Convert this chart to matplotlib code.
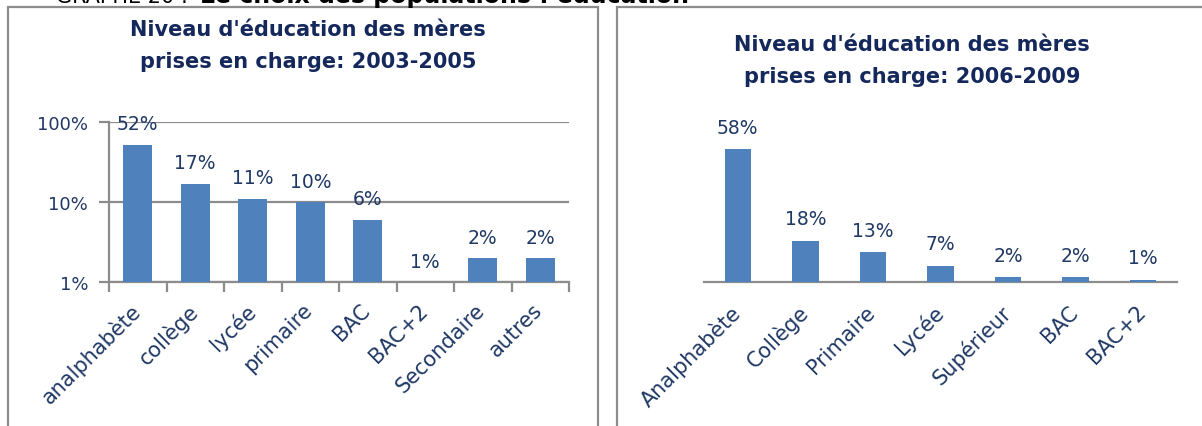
import matplotlib.pyplot as plt
from matplotlib.patches import Rectangle
from matplotlib.ticker import FixedLocator, NullLocator
from matplotlib.transforms import ScaledTranslation

# data
cats_0305 = ["analphabète", "collège", "lycée", "primaire", "BAC", "BAC+2", "Secondaire", "autres"]
vals_0305 = [0.52, 0.17, 0.11, 0.10, 0.06, 0.01, 0.02, 0.02]
labels_0305 = ["52%", "17%", "11%", "10%", "6%", "1%", "2%", "2%"]

cats_0609 = ["Analphabète", "Collège", "Primaire", "Lycée", "Supérieur", "BAC", "BAC+2"]
vals_0609 = [0.58, 0.18, 0.13, 0.07, 0.02, 0.02, 0.01]
labels_0609 = ["58%", "18%", "13%", "7%", "2%", "2%", "1%"]

title_0305 = "Niveau d'éducation des mères\nprises en charge: 2003-2005"
title_0609 = "Niveau d'éducation des mères\nprises en charge: 2006-2009"

W, H = 1202, 427
navy = "#1F3864"
title_col = "#14285C"
bar_col = "#4F81BD"
grey = "#8C8C8C"

plt.rcParams['font.family'] = ['DejaVu Sans']

fig = plt.figure(figsize=(W / 100, H / 100), dpi=100)


def px_axes(x0, y0, x1, y1):
    # pixel box (top-left origin) -> figure axes
    return fig.add_axes([x0 / W, 1 - y1 / H, (x1 - x0) / W, (y1 - y0) / H])


def fx(x):
    return x / W


def fy(y):
    return 1 - y / H


def nudge(labels, dx, dy):
    # shift rotated tick labels by a few pixels
    off = ScaledTranslation(dx / 100, -dy / 100, fig.dpi_scale_trans)
    for lab in labels:
        lab.set_transform(lab.get_transform() + off)


# panel frames
for (x0, x1) in [(7.5, 597.5), (617, 1210)]:
    fig.patches.append(Rectangle((fx(x0), -0.1), (x1 - x0) / W, 1.1 - 7.5 / H,
                                 transform=fig.transFigure, fill=False,
                                 edgecolor=grey, linewidth=1.6))

# cut-off heading at the very top
fig.text(fx(56), fy(3), "GRAPHE 20 :", fontsize=15, color="black", va="baseline")
fig.text(fx(200), fy(3), "Le choix des populations : éducation", fontsize=17,
         fontweight="bold", color="black", va="baseline")

# titles
fig.text(fx(308), fy(46), title_0305, fontsize=15, fontweight="bold", color=title_col,
         ha="center", va="center", linespacing=1.75)
fig.text(fx(912), fy(61), title_0609, fontsize=15, fontweight="bold", color=title_col,
         ha="center", va="center", linespacing=1.75)

# ---- left panel, log scale ----
ax1 = px_axes(109, 123, 569, 283)
x1 = range(len(cats_0305))
ax1.bar(x1, vals_0305, width=0.5, color=bar_col, zorder=3)
ax1.set_yscale("log")
ax1.set_ylim(0.01, 1.0)
ax1.set_xlim(-0.5, len(cats_0305) - 0.5)
ax1.yaxis.set_major_locator(FixedLocator([0.01, 0.1, 1.0]))
ax1.yaxis.set_minor_locator(NullLocator())
ax1.set_yticklabels(["1%", "10%", "100%"])
ax1.grid(axis="y", color=grey, linewidth=1.6, zorder=0)
ax1.xaxis.set_major_locator(FixedLocator(list(x1)))
ax1.xaxis.set_minor_locator(FixedLocator([i - 0.5 for i in range(len(cats_0305) + 1)]))
ax1.set_xticklabels(cats_0305, rotation=45, ha="right", rotation_mode="anchor")
ax1.tick_params(axis="x", which="major", length=0, pad=6, labelsize=15, labelcolor=navy)
ax1.tick_params(axis="x", which="minor", length=7, width=1.6, color=grey)
ax1.tick_params(axis="y", length=7, width=1.6, color=grey, labelsize=13, labelcolor=navy, pad=8)
nudge(ax1.get_xticklabels(), -8, 9)
for s in ["top", "right"]:
    ax1.spines[s].set_visible(False)
for s in ["left", "bottom"]:
    ax1.spines[s].set_color(grey)
    ax1.spines[s].set_linewidth(1.6)
for i, (v, lab) in enumerate(zip(vals_0305, labels_0305)):
    ax1.annotate(lab, (i, max(v, 0.01)), xytext=(0, 15), textcoords="offset points",
                 ha="center", va="center", fontsize=13.5, color=navy, zorder=4)

# ---- right panel, linear ----
ax2 = px_axes(704, 123, 1177, 283)
x2 = range(len(cats_0609))
ax2.bar(x2, vals_0609, width=0.39, color=bar_col, zorder=3)
ax2.set_ylim(0, 0.70)
ax2.set_xlim(-0.5, len(cats_0609) - 0.5)
ax2.set_yticks([])
ax2.set_xticks(list(x2))
ax2.set_xticklabels(cats_0609, rotation=45, ha="right", rotation_mode="anchor")
ax2.tick_params(axis="x", length=0, pad=8, labelsize=15, labelcolor=navy)
nudge(ax2.get_xticklabels(), -8, 8)
for s in ["top", "right", "left"]:
    ax2.spines[s].set_visible(False)
ax2.spines["bottom"].set_color(grey)
ax2.spines["bottom"].set_linewidth(1.6)
for i, (v, lab) in enumerate(zip(vals_0609, labels_0609)):
    ax2.annotate(lab, (i, v), xytext=(0, 16), textcoords="offset points",
                 ha="center", va="center", fontsize=13.5, color=navy)

fig.savefig("out.png", dpi=100)
